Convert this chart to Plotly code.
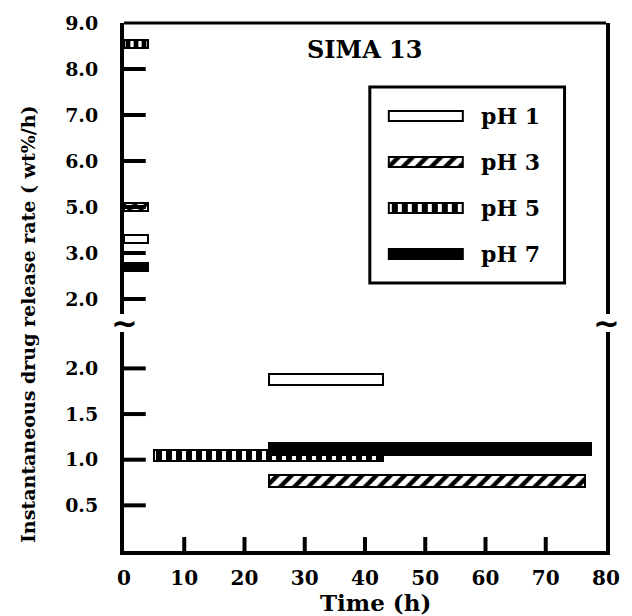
import numpy as np
import plotly.graph_objects as go

# ---------------- data ----------------
series = ["pH 1", "pH 3", "pH 5", "pH 7"]

# early release phase (upper, broken-axis panel)
early_start = [0, 0, 0, 0]
early_end = [4, 4, 4, 4]
early_rate = [3.6, 5.0, 8.55, 2.7]

# sustained release phase (lower panel)
late_start = [24, 24, 5, 24]
late_end = [43, 76.5, 43, 77.5]
late_rate = [1.88, 0.77, 1.05, 1.12]

x_ticks = [0, 10, 20, 30, 40, 50, 60, 70, 80]
upper_tick_values = [2.0, 3.0, 5.0, 6.0, 7.0, 8.0, 9.0]
lower_tick_values = [0.5, 1.0, 1.5, 2.0]

# ---------------- styles ----------------
FONT = "DejaVu Serif"
fills = {
    "pH 1": dict(color="white", shape="", solidity=0.3),
    "pH 3": dict(color="white", shape="/", solidity=0.45),
    "pH 5": dict(color="white", shape="|", solidity=0.6),
    "pH 7": dict(color="black", shape="", solidity=0.3),
}


def marker_for(name, size):
    f = fills[name]
    m = dict(color=f["color"], line=dict(color="black", width=2))
    if f["shape"]:
        m["pattern"] = dict(shape=f["shape"], fgcolor="black", bgcolor="white",
                            size=size, solidity=f["solidity"], fillmode="replace")
    return m


# upper axis is labelled 2,3,5,6,7,8,9 at even spacing -> piecewise scale
upper_pos = list(range(len(upper_tick_values)))


def to_upper(v):
    return float(np.interp(v, upper_tick_values, upper_pos))


W, H = 632, 616
ML, MR, MT, MB = 124, 20, 21, 65
plot_w = W - ML - MR
plot_h = H - MT - MB
X_RANGE = [0, 80]
LOWER_DOM, LOWER_RANGE = [0, 0.415], [0, 2.4]
UPPER_DOM, UPPER_RANGE = [0.449, 1], [-0.325, 6]

fig = go.Figure()

# lower panel
for i, name in enumerate(series):
    fig.add_trace(go.Bar(
        orientation="h", y=[late_rate[i]], base=[late_start[i]],
        x=[late_end[i] - late_start[i]], width=0.125,
        marker=marker_for(name, 10), xaxis="x", yaxis="y",
        showlegend=False, name=name, hoverinfo="skip"))

# upper panel
for i, name in enumerate(series):
    fig.add_trace(go.Bar(
        orientation="h", y=[to_upper(early_rate[i])], base=[early_start[i]],
        x=[early_end[i] - early_start[i]], width=0.17,
        marker=marker_for(name, 8), xaxis="x", yaxis="y2",
        showlegend=False, name=name, hoverinfo="skip"))

# legend keys (drawn on a small hidden axis pair)
for i, name in enumerate(series):
    fig.add_trace(go.Bar(
        orientation="h", y=[i], base=[0.1], x=[0.38], width=0.22,
        marker=marker_for(name, 10), xaxis="x3", yaxis="y3",
        showlegend=False, hoverinfo="skip"))

tickfont = dict(family=FONT, size=20, color="black", weight="bold")
ytickfont = dict(family=FONT, size=19, color="black", weight="bold")

axis_common = dict(showline=True, linewidth=4, linecolor="black",
                   ticks="", showgrid=False, zeroline=False)

fig.update_layout(
    width=W, height=H,
    margin=dict(l=ML, r=MR, t=MT, b=MB),
    paper_bgcolor="white", plot_bgcolor="white",
    barmode="overlay", bargap=0,
    showlegend=False,
    xaxis=dict(range=X_RANGE, domain=[0, 1], anchor="y",
               tickvals=x_ticks, ticktext=[str(v) for v in x_ticks],
               tickfont=tickfont, ticklabelstandoff=6,
               **axis_common),
    yaxis=dict(range=LOWER_RANGE, domain=LOWER_DOM, anchor="x",
               tickvals=lower_tick_values,
               ticktext=[f"{v:.1f}" for v in lower_tick_values],
               tickfont=ytickfont, ticklabelstandoff=18,
               mirror=True, **axis_common),
    yaxis2=dict(range=UPPER_RANGE, domain=UPPER_DOM, anchor="x",
                tickvals=upper_pos,
                ticktext=[f"{v:.1f}" for v in upper_tick_values],
                tickfont=ytickfont, ticklabelstandoff=18,
                mirror=True, **axis_common),
    xaxis3=dict(range=[0, 1], domain=[0.510, 0.914], anchor="y3",
                visible=False),
    yaxis3=dict(range=[3.63, -0.63], domain=[0.5075, 0.879], anchor="x3",
                visible=False),
)

# inward tick marks at the tick values (paper-referenced via the axis domains)
ytick_len = 22 / plot_w
TICK = dict(color="black", width=4)
for v in x_ticks[1:-1]:
    fig.add_shape(type="line", xref="x", yref="paper", x0=v, x1=v,
                  y0=LOWER_DOM[0], y1=LOWER_DOM[0] + 14 / plot_h,
                  line=TICK, layer="above")
for v in lower_tick_values:
    yp = LOWER_DOM[0] + (v - LOWER_RANGE[0]) / (LOWER_RANGE[1] - LOWER_RANGE[0]) * (LOWER_DOM[1] - LOWER_DOM[0])
    fig.add_shape(type="line", xref="paper", yref="paper", x0=0, x1=ytick_len,
                  y0=yp, y1=yp, line=TICK, layer="above")
for p in upper_pos[:-1]:
    yp = UPPER_DOM[0] + (p - UPPER_RANGE[0]) / (UPPER_RANGE[1] - UPPER_RANGE[0]) * (UPPER_DOM[1] - UPPER_DOM[0])
    fig.add_shape(type="line", xref="paper", yref="paper", x0=0, x1=ytick_len,
                  y0=yp, y1=yp, line=TICK, layer="above")

# top frame line
fig.add_shape(type="line", xref="paper", yref="paper", x0=0, x1=1, y0=1, y1=1,
              line=dict(color="black", width=3))
# legend frame
fig.add_shape(type="rect", xref="x3 domain", yref="y3 domain", x0=0, x1=1,
              y0=0, y1=1, line=dict(color="black", width=3))

# legend labels
for i, name in enumerate(series):
    fig.add_annotation(x=0.56, y=i, xref="x3", yref="y3", text=name,
                       showarrow=False, xanchor="left", yanchor="middle",
                       font=dict(family=FONT, size=22, color="black",
                                 weight="bold"))

# axis break marks
for xp in (0, 1):
    fig.add_annotation(x=xp, y=0.432, xref="paper", yref="paper", text="~",
                       showarrow=False, xanchor="center", yanchor="middle",
                       font=dict(family="DejaVu Sans", size=32, color="black",
                                 weight="bold"))

# titles
fig.add_annotation(x=0.499, y=0.949, xref="paper", yref="paper",
                   text="SIMA 13", showarrow=False, xanchor="center",
                   yanchor="middle",
                   font=dict(family=FONT, size=24, color="black",
                             weight="bold"))
fig.add_annotation(x=0.5215, y=-0.098, xref="paper", yref="paper",
                   text="Time (h)", showarrow=False, xanchor="center",
                   yanchor="middle",
                   font=dict(family=FONT, size=23, color="black",
                             weight="bold"))
fig.add_annotation(x=-0.199, y=0.430, xref="paper", yref="paper",
                   text="Instantaneous drug release rate ( wt%/h)",
                   textangle=-90, showarrow=False, xanchor="center",
                   yanchor="middle",
                   font=dict(family=FONT, size=19, color="black",
                             weight="bold"))

fig.write_html("out.html")
